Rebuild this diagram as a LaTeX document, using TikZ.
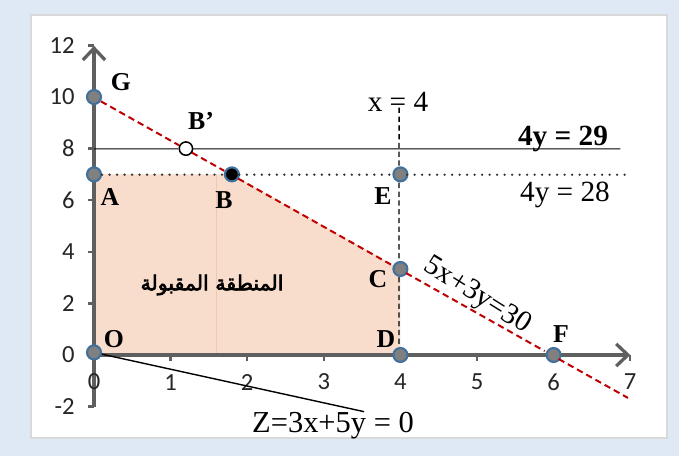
\documentclass[tikz,border=0pt]{standalone}
\usepackage{fontspec}
\setmainfont{Liberation Serif}
\newfontfamily\tickfont{Carlito}
\newfontfamily\arabicfont[Script=Arabic, FakeBold=3]{DejaVu Sans}
\TeXXeTstate=1
\usetikzlibrary{arrows.meta}
\definecolor{framebg}{HTML}{DEE9F5}
\definecolor{framegray}{HTML}{D9D9D9}
\definecolor{axisgray}{HTML}{5F5F5F}
\definecolor{ptblue}{HTML}{41719C}
\definecolor{ptgray}{HTML}{808080}
\definecolor{regionfill}{HTML}{F9DDCC}
\definecolor{regionedge}{HTML}{F1C9B0}
\definecolor{redline}{HTML}{C00000}

\begin{document}
\begin{tikzpicture}[x=0.03cm, y=0.03cm,
  vertex/.style={circle, draw=ptblue, line width=1.8pt, fill=ptgray, inner sep=0pt, minimum size=0.42cm},
  axis/.style={draw=axisgray, line width=2.8pt},
  tickmark/.style={draw=axisgray, line width=2pt},
  ticklabel/.style={font=\tickfont\fontsize{21}{21}\selectfont, text=black!85},
  ptlabel/.style={font=\fontsize{22}{22}\selectfont\bfseries},
  eqlabel/.style={font=\fontsize{25}{25}\selectfont},
  constraint/.style={redline, line width=1.7pt, dash pattern=on 5.5pt off 3.5pt}
]
% frame
\fill[framebg] (0,0) rectangle (679,456);
\draw[framegray, line width=1.5pt, fill=white] (31,18) rectangle (667,441);

\begin{scope}[shift={(94,101)}, xscale=76.6, yscale=25.8]
% feasible region
\fill[regionfill] (0,0) -- (0,7) -- (1.8,7) -- (4,10/3) -- (4,0) -- cycle;
\draw[regionedge, line width=0.6pt] (1.6,0) -- (1.6,7);

% axes
\coordinate (ybot) at (0,-2);
\coordinate (ytop) at (0,12);
\coordinate (xleft) at (0,0);
\coordinate (xright) at (7.03,0);
\draw[axis, -{Straight Barb[length=10pt, width=19pt, line width=2.8pt]}] (ybot) -- (ytop);
\draw[axis, -{Straight Barb[length=10pt, width=19pt, line width=2.8pt]}] (xleft) -- (xright);
\foreach \v in {-2,0,...,12}{
  \draw[tickmark] (0,\v) -- ++(-0.08,0);
  \node[ticklabel, anchor=east] (yl\v) at (-0.2,\v) {\v};
}
\foreach \u in {1,...,7}
  \draw[tickmark] (\u,0) -- ++(0,-0.22);
\foreach \u in {0,...,7}
  \node[ticklabel] (xl\u) at (\u,-1.05) {\u};

% corner points
\node[vertex] (G) at (0,10) {};
\node[vertex, fill=white, draw=black, line width=1.3pt, minimum size=0.4cm] (Bp) at (1.2,8) {};
\node[vertex, fill=black] (B) at (1.8,7) {};
\node[vertex] (A) at (0,7) {};
\node[vertex] (E) at (4,7) {};
\node[vertex] (C) at (4,10/3) {};
\node[vertex] (D) at (4,0) {};
\node[vertex] (F) at (6,0) {};
\node[vertex] (O) at (0,0.1) {};

% loose ends
\coordinate (redend) at (7,-5/3);
\coordinate (l29a) at (0,8);
\coordinate (l29b) at (6.9,8);
\coordinate (l28b) at (7.03,7);
\coordinate (x4top) at (4,9.6);
\coordinate (zend) at (3.54,-2.2);

% constraint lines
\draw[constraint] (G) -- (Bp) -- (B) -- (C) -- (F) -- (redend);
\draw[black, line width=0.8pt] (l29a) -- (Bp) -- (l29b);
\draw[black!80, line width=2.2pt, line cap=round, dash pattern=on 0pt off 6.4pt] (A) -- (B) -- (E) -- (l28b);
\draw[black, line width=1.2pt, dash pattern=on 4.5pt off 3pt] (x4top) -- (E) -- (C) -- (D);
\draw[black, line width=1.2pt] (O) -- (zend);
\end{scope}

% labels
\node[ptlabel] (lG) at (121,374) {G};
\node[ptlabel] (lBp) at (201,335) {B'};
\node[ptlabel] (lA) at (110,259) {A};
\node[ptlabel] (lB) at (224,256) {B};
\node[ptlabel] (lE) at (383,260) {E};
\node[ptlabel] (lC) at (378,177) {C};
\node[ptlabel] (lD) at (386,117) {D};
\node[ptlabel] (lF) at (561,122) {F};
\node[ptlabel] (lO) at (114,117) {O};
\node[eqlabel] (lx4) at (398,354) {x = 4};
\node[eqlabel, font=\fontsize{25}{25}\selectfont\bfseries] (l29) at (563,317) {4y = 29};
\node[eqlabel] (l28) at (565,261) {4y = 28};
\node[eqlabel, rotate=-32] (l30) at (477,160) {5x+3y=30};
\node[eqlabel, font=\fontsize{26}{26}\selectfont] (lZ) at (333,30) {Z=3x+5y = 0};
\node[font=\arabicfont\fontsize{17.5}{17.5}\selectfont] (lregion) at (212,171) {\beginR المنطقة المقبولة\endR};
\end{tikzpicture}
\end{document}
